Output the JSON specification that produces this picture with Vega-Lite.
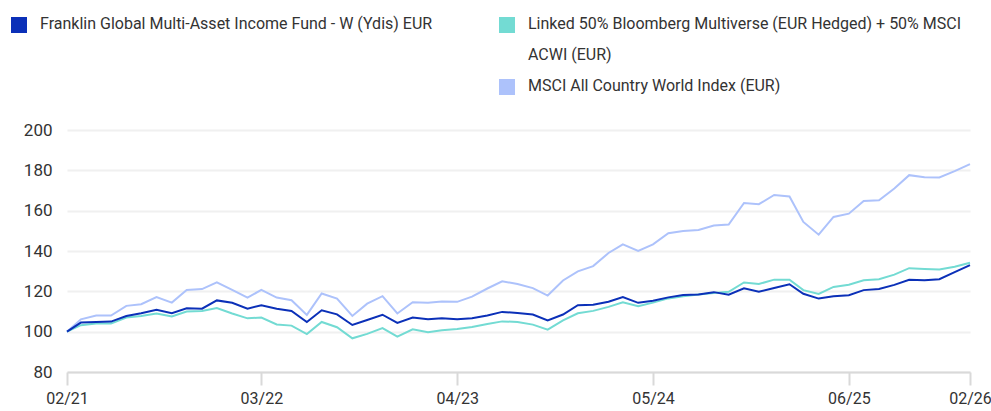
{
  "$schema": "https://vega.github.io/schema/vega-lite/v6.json",
  "width": 903,
  "height": 242,
  "autosize": {"type": "none"},
  "padding": {"left": 67, "top": 130, "right": 21, "bottom": 39},
  "background": "white",
  "config": {
    "view": {"stroke": null},
    "font": "Roboto",
    "axis": {"labelFont": "Roboto", "labelFontSize": 16, "labelColor": "#333333"},
    "legend": {"labelFont": "Roboto"}
  },
  "data": {
    "values": [
      {"d": "2021-02-01", "F": 100, "L": 100, "M": 100},
      {"d": "2021-03-01", "F": 104.5, "L": 103.2, "M": 106.1},
      {"d": "2021-04-01", "F": 104.8, "L": 104.1, "M": 108.0},
      {"d": "2021-05-01", "F": 105.0, "L": 104.1, "M": 108.0},
      {"d": "2021-06-01", "F": 107.8, "L": 107.0, "M": 112.8},
      {"d": "2021-07-01", "F": 109.1, "L": 107.8, "M": 113.6},
      {"d": "2021-08-01", "F": 110.8, "L": 109.0, "M": 117.1},
      {"d": "2021-09-01", "F": 109.1, "L": 107.5, "M": 114.4},
      {"d": "2021-10-01", "F": 111.6, "L": 110.0, "M": 120.7},
      {"d": "2021-11-01", "F": 111.4, "L": 110.3, "M": 121.1},
      {"d": "2021-12-01", "F": 115.5, "L": 111.7, "M": 124.5},
      {"d": "2022-01-01", "F": 114.3, "L": 109.0, "M": 120.7},
      {"d": "2022-02-01", "F": 111.4, "L": 106.6, "M": 116.9},
      {"d": "2022-03-01", "F": 113.1, "L": 107.0, "M": 120.7},
      {"d": "2022-04-01", "F": 111.4, "L": 103.6, "M": 116.9},
      {"d": "2022-05-01", "F": 110.3, "L": 103.0, "M": 115.6},
      {"d": "2022-06-01", "F": 104.8, "L": 98.8, "M": 108.3},
      {"d": "2022-07-01", "F": 110.6, "L": 104.8, "M": 118.9},
      {"d": "2022-08-01", "F": 108.6, "L": 102.2, "M": 116.4},
      {"d": "2022-09-01", "F": 103.3, "L": 96.7, "M": 107.8},
      {"d": "2022-10-01", "F": 105.8, "L": 98.9, "M": 113.9},
      {"d": "2022-11-01", "F": 108.4, "L": 101.8, "M": 117.6},
      {"d": "2022-12-01", "F": 104.3, "L": 97.5, "M": 109.0},
      {"d": "2023-01-01", "F": 107.0, "L": 101.2, "M": 114.6},
      {"d": "2023-02-01", "F": 106.1, "L": 99.7, "M": 114.3},
      {"d": "2023-03-01", "F": 106.6, "L": 100.7, "M": 114.9},
      {"d": "2023-04-01", "F": 106.1, "L": 101.3, "M": 114.8},
      {"d": "2023-05-01", "F": 106.6, "L": 102.3, "M": 117.4},
      {"d": "2023-06-01", "F": 108.0, "L": 103.8, "M": 121.4},
      {"d": "2023-07-01", "F": 109.8, "L": 105.1, "M": 125.0},
      {"d": "2023-08-01", "F": 109.2, "L": 104.8, "M": 123.6},
      {"d": "2023-09-01", "F": 108.5, "L": 103.5, "M": 121.6},
      {"d": "2023-10-01", "F": 105.6, "L": 101.0, "M": 117.9},
      {"d": "2023-11-01", "F": 108.5, "L": 105.6, "M": 125.4},
      {"d": "2023-12-01", "F": 113.1, "L": 109.1, "M": 129.9},
      {"d": "2024-01-01", "F": 113.3, "L": 110.3, "M": 132.5},
      {"d": "2024-02-01", "F": 114.8, "L": 112.3, "M": 139.0},
      {"d": "2024-03-01", "F": 117.2, "L": 114.6, "M": 143.3},
      {"d": "2024-04-01", "F": 114.3, "L": 112.6, "M": 140.1},
      {"d": "2024-05-01", "F": 115.3, "L": 114.4, "M": 143.3},
      {"d": "2024-06-01", "F": 117.0, "L": 116.5, "M": 148.8},
      {"d": "2024-07-01", "F": 118.2, "L": 117.6, "M": 149.9},
      {"d": "2024-08-01", "F": 118.4, "L": 118.4, "M": 150.4},
      {"d": "2024-09-01", "F": 119.6, "L": 119.2, "M": 152.6},
      {"d": "2024-10-01", "F": 118.3, "L": 119.8, "M": 153.1},
      {"d": "2024-11-01", "F": 121.5, "L": 124.4, "M": 163.8},
      {"d": "2024-12-01", "F": 119.8, "L": 123.6, "M": 163.2},
      {"d": "2025-01-01", "F": 121.7, "L": 125.8, "M": 167.8},
      {"d": "2025-02-01", "F": 123.5, "L": 125.8, "M": 167.0},
      {"d": "2025-03-01", "F": 118.8, "L": 120.6, "M": 154.4},
      {"d": "2025-04-01", "F": 116.4, "L": 118.7, "M": 148.1},
      {"d": "2025-05-01", "F": 117.6, "L": 122.2, "M": 156.9},
      {"d": "2025-06-01", "F": 118.1, "L": 123.3, "M": 158.5},
      {"d": "2025-07-01", "F": 120.6, "L": 125.5, "M": 164.8},
      {"d": "2025-08-01", "F": 121.2, "L": 126.0, "M": 165.2},
      {"d": "2025-09-01", "F": 123.2, "L": 128.3, "M": 171.0},
      {"d": "2025-10-01", "F": 125.7, "L": 131.5, "M": 177.6},
      {"d": "2025-11-01", "F": 125.5, "L": 131.1, "M": 176.6},
      {"d": "2025-12-01", "F": 126.0, "L": 130.8, "M": 176.5},
      {"d": "2026-01-01", "F": 129.5, "L": 132.2, "M": 179.6},
      {"d": "2026-02-01", "F": 133.0, "L": 134.2, "M": 183.1}
    ]
  },
  "transform": [
    {"fold": ["M", "L", "F"], "as": ["series", "value"]}
  ],
  "mark": {"type": "line", "strokeWidth": 2, "interpolate": "linear"},
  "encoding": {
    "x": {
      "field": "d",
      "type": "temporal",
      "scale": {"type": "utc", "domain": [{"year": 2021, "month": 2, "date": 1, "utc": true}, {"year": 2026, "month": 2, "date": 1, "utc": true}]},
      "axis": {
        "title": null,
        "format": "%m/%y",
        "values": [
          {"year": 2021, "month": 2, "date": 1, "utc": true},
          {"year": 2022, "month": 3, "date": 1, "utc": true},
          {"year": 2023, "month": 4, "date": 1, "utc": true},
          {"year": 2024, "month": 5, "date": 1, "utc": true},
          {"year": 2025, "month": 6, "date": 1, "utc": true},
          {"year": 2026, "month": 2, "date": 1, "utc": true}
        ],
        "grid": false,
        "domainColor": "#d9d9d9",
        "domainWidth": 2,
        "tickColor": "#d9d9d9",
        "tickWidth": 2,
        "tickSize": 13,
        "labelPadding": 5,
        "labelFontSize": 16,
        "labelFlush": false,
        "labelOverlap": false
      }
    },
    "y": {
      "field": "value",
      "type": "quantitative",
      "scale": {"domain": [80, 200], "nice": false, "zero": false},
      "axis": {
        "title": null,
        "values": [80, 100, 120, 140, 160, 180, 200],
        "domain": false,
        "ticks": false,
        "labelPadding": 15,
        "labelFontSize": 17,
        "gridColor": "#f0f0f0",
        "gridWidth": 2
      }
    },
    "color": {
      "field": "series",
      "type": "nominal",
      "scale": {
        "domain": ["F", "L", "_", "M"],
        "range": ["#0b30b8", "#73dbd3", "rgba(255,255,255,0)", "#adc2fb"]
      },
      "legend": {
        "orient": "none",
        "legendX": -56,
        "legendY": -113,
        "title": null,
        "direction": "horizontal",
        "columns": 2,
        "columnPadding": 66,
        "rowPadding": 15,
        "padding": 0,
        "symbolType": "square",
        "symbolSize": 256,
        "symbolStrokeWidth": 0,
        "labelOffset": 13,
        "labelFontSize": 16,
        "labelColor": "#333333",
        "labelLimit": 700,
        "labelBaseline": "top",
        "labelExpr": "datum.value == 'F' ? ['Franklin Global Multi-Asset Income Fund - W (Ydis) EUR', ''] : datum.value == 'L' ? ['Linked 50% Bloomberg Multiverse (EUR Hedged) + 50% MSCI', 'ACWI (EUR)'] : datum.value == 'M' ? ['MSCI All Country World Index (EUR)', ''] : ['', '']",
        "encode": {
          "symbols": {"update": {"fill": {"scale": "color", "field": "value"}, "stroke": {"value": "transparent"}, "opacity": {"value": 1}}},
          "labels": {"update": {"lineHeight": {"value": 31}, "dy": {"value": -9}}}
        }
      }
    },
    "order": {"field": "series", "sort": "descending"}
  }
}
